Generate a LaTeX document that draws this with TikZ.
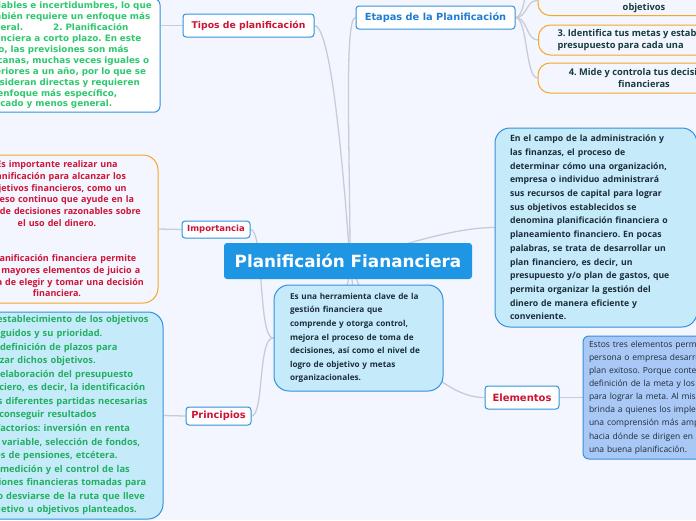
\documentclass[tikz,border=0pt]{standalone}
\usepackage{fontspec}
\setmainfont{Open Sans}
\newfontfamily\hfont{DejaVu Sans}
\usepackage{xcolor}
\usepackage{tikz}
\usetikzlibrary{positioning}
\pgfdeclarelayer{canvas}
\pgfdeclarelayer{links}
\pgfsetlayers{canvas,links,main}
\definecolor{bgtint}{RGB}{243, 246, 254}
\definecolor{rootblue}{RGB}{30, 150, 228}
\definecolor{edgeblue}{RGB}{50, 145, 220}
\definecolor{etapablue}{RGB}{30, 125, 210}
\definecolor{notecyan}{RGB}{197, 235, 251}
\definecolor{noteperi}{RGB}{170, 200, 246}
\definecolor{topicred}{RGB}{205, 20, 55}
\definecolor{leafgreen}{RGB}{46, 200, 110}
\definecolor{pringreen}{RGB}{34, 175, 95}
\definecolor{leaforange}{RGB}{246, 168, 40}
\definecolor{inkteal}{RGB}{22, 60, 64}
\definecolor{inkslate}{RGB}{28, 44, 56}
\definecolor{linkgray}{RGB}{200, 204, 214}
\newcommand\fs[2]{\fontsize{#1}{#2}\selectfont}
\frenchspacing

\begin{document}
\begin{tikzpicture}[
    x=1pt, y=-1pt,
    root/.style    = {fill=rootblue, text=white, rounded corners=3pt,
                      minimum width=248pt, minimum height=36pt,
                      font=\hfont\bfseries\fs{16.8}{20}},
    topic/.style   = {draw=edgeblue, fill=white, line width=1pt, rounded corners=3pt,
                      inner sep=0pt, text=topicred, font=\hfont\bfseries\fs{#1}{#1}},
    note/.style 2 args = {draw=edgeblue, fill=notecyan, line width=1pt, rounded corners=15pt,
                      align=left, text=inkslate, font=\bfseries\fs{#1}{#2}},
    pasobox/.style = {draw=leaforange, fill=bgtint, line width=1pt, rounded corners=12pt,
                      text=inkteal, font=\bfseries\fs{9.3}{12}},
    link/.style    = {draw=linkgray, line width=1.3pt},
  ]
  \useasboundingbox (0,0) rectangle (696,520);
  \begin{pgfonlayer}{canvas}
    \fill[bgtint] (0,0) rectangle (696,520);
  \end{pgfonlayer}

  \node[root] (root) at (348,261) {Planificaión Fiananciera};
  \node[note={8.2}{13.6}, minimum width=169pt, minimum height=106pt, inner xsep=16pt,
        text width=137pt] (descA) at (358.5,338)
    {Es una herramienta clave de la\\gestión financiera que\\comprende y otorga control,\\
     mejora el proceso de toma de\\decisiones, así como el nivel de\\logro de objetivo y metas\\
     organizacionales.};
  \node[note={8.7}{13.7}, minimum width=202pt, minimum height=199pt, inner xsep=15pt,
        text width=172pt] (descB) at (596,227.5)
    {En el campo de la administración y\\las finanzas, el proceso de\\
     determinar cómo una organización,\\empresa o individuo administrará\\
     sus recursos de capital para lograr\\sus objetivos establecidos se\\
     denomina planificación financiera o\\planeamiento financiero. En pocas\\
     palabras, se trata de desarrollar un\\plan financiero, es decir, un\\
     presupuesto y/o plan de gastos, que\\permita organizar la gestión del\\
     dinero de manera eficiente y\\conveniente.};

  \node[topic=9.3, minimum width=131pt, minimum height=23pt] (tipos) at (248.5,25.5) {Tipos de planificación};
  \node[topic=9.8, text=etapablue, minimum width=159pt, minimum height=23pt] (etapas) at (435.5,17.5) {Etapas de la Planificación};
  \node[topic=8.5, minimum width=68pt, minimum height=17pt] (imp) at (216,229.5) {Importancia};
  \node[topic=9.8, minimum width=65pt, minimum height=18pt] (prin) at (218.5,416) {Principios};
  \node[topic=10, minimum width=74pt, minimum height=23pt] (ele) at (522,397.5) {Elementos};

  \node[draw=edgeblue, fill=white, line width=1pt, rounded corners=6pt, align=left,
        text=leafgreen, font=\hfont\bfseries\fs{8.8}{10.9}, text width=174pt,
        inner xsep=4pt, minimum height=113pt] (tiposNote) at (69,55.5)
    {variables e incertidumbres, lo que\\también requiere un enfoque más\\
     general.\hspace{30pt}2. Planificación\\financiera a corto plazo. En este\\
     caso, las previsiones son más\\cercanas, muchas veces iguales o\\
     inferiores a un año, por lo que se\\consideran directas y requieren\\
     un enfoque más específico,\\aplicado y menos general.};
  \node[draw=leaforange, fill=bgtint, line width=1pt, rounded corners=15pt, align=center,
        text=topicred, font=\bfseries\fs{9}{11.75}, text width=190pt,
        minimum width=202pt, minimum height=148pt] (impNote) at (57,229)
    {Es importante realizar una\\planificación para alcanzar los\\
     objetivos financieros, como un\\proceso continuo que ayude en la\\
     toma de decisiones razonables sobre\\el uso del dinero.\\[23.5pt]
     La planificación financiera permite\\tener mayores elementos de juicio a\\
     la hora de elegir y tomar una decisión\\financiera.};
  \node[note={9.3}{13.57}, text=pringreen, minimum width=194pt, minimum height=207pt,
        inner xsep=6pt, text width=182pt] (prinNote) at (66,415.5)
    {1. El establecimiento de los objetivos\\perseguidos y su prioridad.\\
     2. La definición de plazos para\\alcanzar dichos objetivos.\\
     3. La elaboración del presupuesto\\financiero, es decir, la identificación\\
     de las diferentes partidas necesarias\\para conseguir resultados\\
     satisfactorios: inversión en renta\\fija o variable, selección de fondos,\\
     planes de pensiones, etcétera.\\4. La medición y el control de las\\
     decisiones financieras tomadas para\\así no desviarse de la ruta que lleve\\
     al objetivo u objetivos planteados.};
  \node[draw=edgeblue, fill=noteperi, line width=1pt, rounded corners=6pt, align=left,
        text=inkslate, font=\fs{8.5}{13.1}, text width=178pt, inner xsep=6pt,
        minimum height=123pt] (eleNote) at (678,397.5)
    {Estos tres elementos permiten que una\\persona o empresa desarrolle un\\
     plan exitoso. Porque contemplan la\\definición de la meta y los recursos\\
     para lograr la meta. Al mismo tiempo\\brinda a quienes los implementan\\
     una comprensión más amplia de\\hacia dónde se dirigen en base a\\
     una buena planificación.};

  \node[pasobox, anchor=south, minimum width=212pt, text height=21.5pt, text depth=2.5pt,
        inner ysep=3pt] (paso1) at (644,16) {objetivos};
  \node[pasobox, anchor=west, align=left, inner xsep=19pt, minimum height=30pt] (paso2) at (538,40)
    {3. Identifica tus metas y establece un\\presupuesto para cada una};
  \node[pasobox, align=center, minimum width=212pt, minimum height=30pt] (paso3) at (644,78)
    {4. Mide y controla tus decisiones\\financieras};

  \begin{pgfonlayer}{links}
    \coordinate (hub) at (350,262);
    \coordinate (hubL) at (273,338);
    \coordinate (hubR) at (428,372);
    \coordinate (paso0) at (538,-40);
    \draw[link] (tipos.east) .. controls (330,26) and (342,150) .. (hub);
    \draw[link] (etapas.west) .. controls (344,18) and (350,150) .. (hub);
    \draw[link] (hub) .. controls (400,245) and (455,227.5) .. (descB.west);
    \draw[link] (imp.east) .. controls (264,229.5) and (258,338) .. (hubL)
                .. controls (320,338) and (352,300) .. (hub);
    \draw[link] (prin.east) .. controls (264,416) and (258,338) .. (hubL);
    \draw[link] (hub) -- (descA);
    \draw[link] (hub) .. controls (370,320) and (400,355) .. (hubR)
                .. controls (450,388) and (465,397.5) .. (ele.west);
    \draw[link] (tiposNote.east |- tipos.west) -- (tipos.west);
    \draw[link] (impNote.east) -- (imp.west);
    \draw[link] (prinNote.east) -- (prin.west);
    \draw[link] (ele.east) -- (eleNote.west);
    \foreach \p in {paso0, paso1.west, paso2.west, paso3.west}
      \draw[link] (etapas.east) .. controls +(12,0) and +(-12,0) .. (\p);
  \end{pgfonlayer}
\end{tikzpicture}
\end{document}
